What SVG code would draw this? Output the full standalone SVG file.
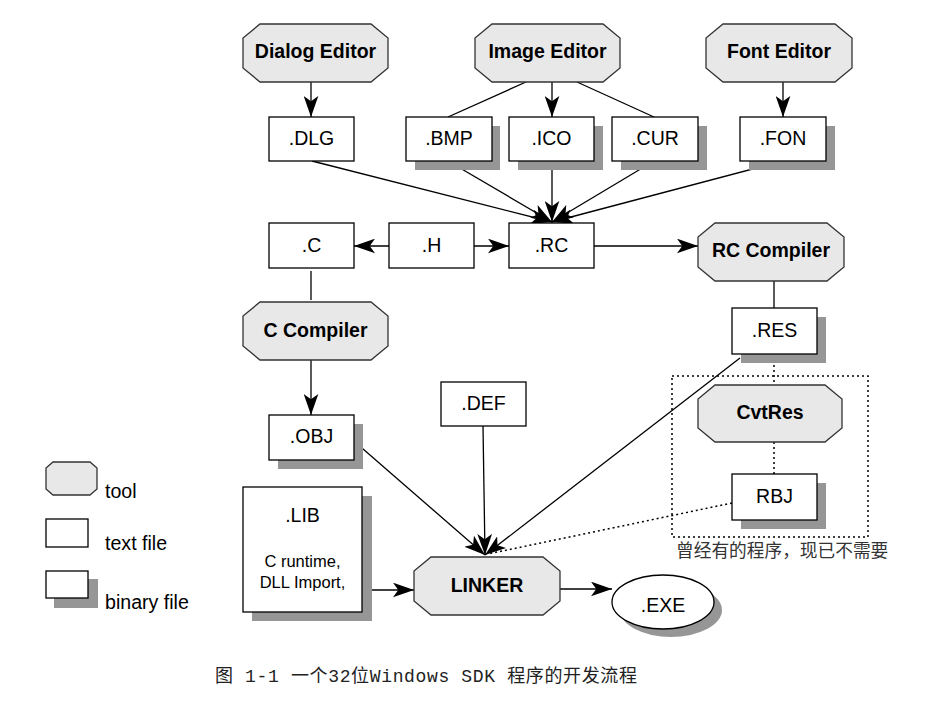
<svg xmlns="http://www.w3.org/2000/svg" width="927" height="704" viewBox="0 0 927 704">
<style>
.tool{fill:#e8e8e8;stroke:#333;stroke-width:1.3}
.box{fill:#fff;stroke:#000;stroke-width:1.3}
.sh{fill:#969696}
.tt{font-family:"Liberation Sans",Arial,sans-serif;font-weight:bold;font-size:19.5px;text-anchor:middle;fill:#000}
.ft{font-family:"Liberation Sans",Arial,sans-serif;font-size:19.5px;text-anchor:middle;fill:#000}
.sm{font-family:"Liberation Sans",Arial,sans-serif;font-size:16.5px;text-anchor:middle;fill:#000}
.lg{font-family:"Liberation Sans",Arial,sans-serif;font-size:19.6px;fill:#000}
.ln{stroke:#000;stroke-width:1.3;fill:none}
.ar{stroke:#000;stroke-width:1.3;fill:none;marker-end:url(#ah)}
.dt{stroke:#000;stroke-width:1.5;fill:none;stroke-dasharray:2,3}
</style>
<defs>
<marker id="ah" viewBox="0 0 20 14" refX="20" refY="7" markerWidth="21" markerHeight="15" markerUnits="userSpaceOnUse" orient="auto">
<path d="M0,0 L20,7 L0,14 L5,7 z" fill="#000"/>
</marker>
</defs>
<rect width="927" height="704" fill="#fff"/>

<g id="connectors">
<line class="ar" x1="311" y1="82" x2="311" y2="117"/>
<line class="ar" x1="552" y1="82" x2="552" y2="117"/>
<line class="ar" x1="783" y1="82" x2="783" y2="117"/>
<line class="ln" x1="526" y1="82" x2="448" y2="117"/>
<line class="ln" x1="577" y1="82" x2="654" y2="117"/>
<line class="ar" x1="312" y1="161" x2="552" y2="222"/>
<line class="ar" x1="448" y1="161" x2="552" y2="222"/>
<line class="ar" x1="552" y1="161" x2="552" y2="222"/>
<line class="ar" x1="654" y1="161" x2="552" y2="222"/>
<line class="ar" x1="783" y1="161" x2="552" y2="222"/>
<line class="ar" x1="389" y1="246" x2="354" y2="246"/>
<line class="ar" x1="474" y1="246" x2="509" y2="246"/>
<line class="ar" x1="594" y1="246" x2="698" y2="246"/>
<line class="ln" x1="311" y1="271" x2="311" y2="300"/>
<line class="ar" x1="311" y1="360" x2="311" y2="415"/>
<line class="ln" x1="774" y1="281" x2="774" y2="308"/>
<line class="dt" x1="774" y1="355" x2="774" y2="385"/>
<line class="dt" x1="774" y1="442" x2="774" y2="474"/>
<line class="ar" x1="355" y1="442" x2="485" y2="555"/>
<line class="ar" x1="483" y1="426" x2="485" y2="555"/>
<line class="ar" x1="740" y1="358" x2="485" y2="555"/>
<line class="dt" x1="732" y1="503" x2="488" y2="554"/>
<line class="ar" x1="362" y1="590" x2="414" y2="590"/>
<line class="ar" x1="560" y1="589" x2="612" y2="589"/>
<rect class="dt" x="672" y="376" width="196" height="161"/>
</g>

<g id="dialog-editor">
<polygon class="tool" points="260,24 371,24 388,38 388,68 371,82 260,82 243,68 243,38"/>
<text class="tt" x="315.5" y="58">Dialog Editor</text>
</g>
<g id="image-editor">
<polygon class="tool" points="492,24 603,24 620,38 620,68 603,82 492,82 475,68 475,38"/>
<text class="tt" x="547.5" y="58">Image Editor</text>
</g>
<g id="font-editor">
<polygon class="tool" points="723,24 835,24 852,38 852,68 835,82 723,82 706,68 706,38"/>
<text class="tt" x="779" y="58">Font Editor</text>
</g>

<g id="dlg">
<rect class="box" x="269" y="117" width="85" height="44"/>
<text class="ft" x="311.5" y="145">.DLG</text>
</g>
<g id="bmp">
<rect class="sh" x="415" y="126" width="85" height="44"/>
<rect class="box" x="406" y="117" width="86" height="44"/>
<text class="ft" x="449" y="145">.BMP</text>
</g>
<g id="ico">
<rect class="sh" x="518" y="126" width="85" height="44"/>
<rect class="box" x="509" y="117" width="85" height="44"/>
<text class="ft" x="551.5" y="145">.ICO</text>
</g>
<g id="cur">
<rect class="sh" x="621" y="126" width="86" height="44"/>
<rect class="box" x="612" y="117" width="86" height="44"/>
<text class="ft" x="655" y="145">.CUR</text>
</g>
<g id="fon">
<rect class="sh" x="749" y="126" width="86" height="44"/>
<rect class="box" x="740" y="117" width="86" height="44"/>
<text class="ft" x="783" y="145">.FON</text>
</g>

<g id="c">
<rect class="box" x="269" y="223" width="85" height="45"/>
<text class="ft" x="311.5" y="252">.C</text>
</g>
<g id="h">
<rect class="box" x="389" y="223" width="85" height="45"/>
<text class="ft" x="431.5" y="252">.H</text>
</g>
<g id="rc">
<rect class="box" x="509" y="223" width="85" height="45"/>
<text class="ft" x="551.5" y="252">.RC</text>
</g>
<g id="rc-compiler">
<polygon class="tool" points="715,223 827,223 844,237 844,267 827,281 715,281 698,267 698,237"/>
<text class="tt" x="771" y="257">RC Compiler</text>
</g>

<g id="c-compiler">
<polygon class="tool" points="260,302 371,302 388,316 388,346 371,360 260,360 243,346 243,316"/>
<text class="tt" x="315.5" y="337">C Compiler</text>
</g>
<g id="res">
<rect class="sh" x="741" y="317" width="85" height="46"/>
<rect class="box" x="732" y="308" width="85" height="46"/>
<text class="ft" x="774.5" y="337">.RES</text>
</g>
<g id="cvtres">
<polygon class="tool" points="715,385 825,385 842,399 842,428 825,442 715,442 698,428 698,399"/>
<text class="tt" x="770" y="419">CvtRes</text>
</g>
<g id="rbj">
<rect class="sh" x="741" y="483" width="85" height="46"/>
<rect class="box" x="732" y="474" width="85" height="46"/>
<text class="ft" x="774.5" y="503">RBJ</text>
</g>
<text id="note" x="676" y="557" font-family="'Noto Sans CJK SC',sans-serif" font-size="17.7" fill="#333">曾经有的程序，现已不需要</text>

<g id="obj">
<rect class="sh" x="278" y="424" width="85" height="45"/>
<rect class="box" x="269" y="415" width="85" height="45"/>
<text class="ft" x="311.5" y="443">.OBJ</text>
</g>
<g id="def">
<rect class="box" x="441" y="382" width="85" height="44"/>
<text class="ft" x="483.5" y="410">.DEF</text>
</g>
<g id="lib">
<rect class="sh" x="252" y="496" width="120" height="125"/>
<rect class="box" x="243" y="487" width="119" height="125"/>
<text class="ft" x="302.5" y="522">.LIB</text>
<text class="sm" x="302.5" y="567">C runtime,</text>
<text class="sm" x="302.5" y="588">DLL Import,</text>
</g>
<g id="linker">
<polygon class="tool" points="431,557 543,557 560,571 560,601 543,615 431,615 414,601 414,571"/>
<text class="tt" x="487" y="592">LINKER</text>
</g>
<g id="exe">
<ellipse class="sh" cx="671" cy="610" rx="51" ry="27"/>
<ellipse class="box" cx="663" cy="602" rx="51" ry="27"/>
<text class="ft" x="663" y="612">.EXE</text>
</g>

<g id="legend">
<polygon class="tool" points="53,462 90,462 97,468 97,489 90,495 53,495 46,489 46,468"/>
<text class="lg" x="105" y="498">tool</text>
<rect class="box" x="46" y="519" width="42" height="28"/>
<text class="lg" x="105" y="550">text file</text>
<rect class="sh" x="54" y="579" width="44" height="29"/>
<rect class="box" x="46" y="571" width="42" height="27"/>
<text class="lg" x="105" y="609">binary file</text>
</g>

<text id="caption" x="215" y="682" font-family="'Liberation Mono','Noto Sans CJK SC',monospace" font-size="18" fill="#222" textLength="422" lengthAdjust="spacing">图 1-1 一个32位Windows SDK 程序的开发流程</text>
</svg>
